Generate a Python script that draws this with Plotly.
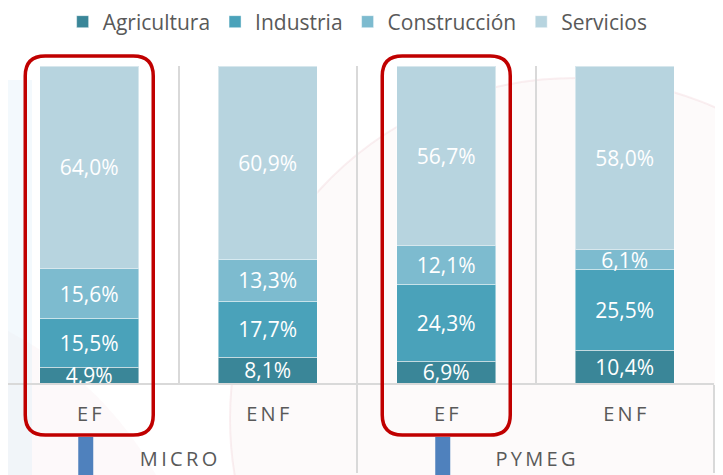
import plotly.graph_objects as go

# ---- data ----
groups = ["MICRO", "MICRO", "PYMEG", "PYMEG"]
types = ["EF", "ENF", "EF", "ENF"]
agricultura = [4.9, 8.1, 6.9, 10.4]
industria = [15.5, 17.7, 24.3, 25.5]
construccion = [15.6, 13.3, 12.1, 6.1]
servicios = [64.0, 60.9, 56.7, 58.0]
series_names = ["Agricultura", "Industria", "Construcción", "Servicios"]
highlight = "EF"

colors = ["#3A8698", "#4AA2BA", "#7DBBCF", "#B7D4DF"]
FONT = "Open Sans, Noto Sans, sans-serif"
GRAY = "#595959"
LINE = "#D9D9D9"


def spaced(s, sep="\u2009"):
    return sep.join(list(s))


# inner labels get an empty second line so the group row sits lower
pad_line = "<br><span style='font-size:27px'>\u00a0</span>"
x = [[spaced(g) for g in groups], [spaced(t) + pad_line for t in types]]

fig = go.Figure()
for name, vals, col in zip(series_names, [agricultura, industria, construccion, servicios], colors):
    fig.add_trace(go.Bar(
        x=x, y=vals, name=name,
        marker=dict(color=col, line=dict(color="rgba(255,255,255,0.45)", width=1)),
        texttemplate="%{y:.1f}%", textposition="inside", insidetextanchor="middle",
        constraintext="none", textangle=0,
        textfont=dict(color="white", size=21, family=FONT),
        cliponaxis=True,
    ))

# page body has an 8px margin: figure occupies viewport (8..723, 8..475)
OFF = 8
W, H = 723 - OFF, 475 - OFF
plot_l, plot_r, plot_t, plot_b = 8, 714, 66, 383  # viewport px of plot area
ml, mr = plot_l - OFF, W - (plot_r - OFF)
mt, mb = plot_t - OFF, H - (plot_b - OFF)
pw, ph = plot_r - plot_l, plot_b - plot_t
n = len(types)
cat_px = 178.5  # px per category
x_lo = -0.5 + (plot_l - 0) / cat_px


def px2x(p):  # viewport px -> paper
    return (p - plot_l) / pw


def py2y(p):
    return (plot_b - p) / ph


def cat2px(c):
    return (c + 0.5) * cat_px


shapes = []
# faint watermark circles in the background
shapes.append(dict(type="circle", xref="paper", yref="paper", layer="below",
                   x0=px2x(230), x1=px2x(920), y0=py2y(760), y1=py2y(78),
                   fillcolor="rgba(236,205,210,0.10)", line=dict(color="rgba(236,190,200,0.25)", width=2)))
shapes.append(dict(type="circle", xref="paper", yref="paper", layer="below",
                   x0=px2x(-520), x1=px2x(200), y0=py2y(1000), y1=py2y(290),
                   fillcolor="rgba(236,205,210,0.12)", line=dict(width=0)))
shapes.append(dict(type="rect", xref="paper", yref="paper", layer="below",
                   x0=px2x(0), x1=px2x(32), y0=py2y(475), y1=py2y(80),
                   fillcolor="rgba(215,235,248,0.30)", line=dict(width=0)))

# highlight boxes around EF bars + blue connector stubs
half_w = 64
top, bot = py2y(56), py2y(435)
rx, ry = 20 / pw, 20 / ph
for i, t in enumerate(types):
    if t != highlight:
        continue
    cpx = cat2px(i)
    x0, x1 = px2x(cpx - half_w), px2x(cpx + half_w)
    path = (f"M{x0 + rx},{top} L{x1 - rx},{top} Q{x1},{top} {x1},{top - ry} "
            f"L{x1},{bot + ry} Q{x1},{bot} {x1 - rx},{bot} "
            f"L{x0 + rx},{bot} Q{x0},{bot} {x0},{bot + ry} "
            f"L{x0},{top - ry} Q{x0},{top} {x0 + rx},{top} Z")
    shapes.append(dict(type="path", path=path, xref="paper", yref="paper", layer="above",
                       line=dict(color="#C00000", width=3.5)))
    shapes.append(dict(type="rect", xref="paper", yref="paper", layer="above",
                       x0=px2x(cpx - 11), x1=px2x(cpx + 4), y0=py2y(480), y1=py2y(437),
                       fillcolor="#4F81BD", line=dict(width=0)))

fig.update_layout(
    width=W, height=H,
    margin=dict(l=ml, r=mr, t=mt, b=mb, autoexpand=False),
    barmode="stack", bargap=0.445,
    separators=",.",
    paper_bgcolor="white", plot_bgcolor="rgba(0,0,0,0)",
    font=dict(family=FONT, color=GRAY, size=20),
    showlegend=True,
    legend=dict(orientation="h", x=0.489, xref="container", xanchor="center",
                y=0.970, yref="container", yanchor="middle", traceorder="normal",
                font=dict(size=21, color=GRAY, family=FONT), itemwidth=30,
                bgcolor="rgba(0,0,0,0)"),
    xaxis=dict(type="multicategory", range=[x_lo, n - 0.5],
               showgrid=True, gridcolor=LINE, gridwidth=1.5,
               tickson="boundaries", showline=True, linecolor=LINE, linewidth=1.5,
               showdividers=True, dividercolor=LINE, dividerwidth=1.5, ticks="",
               ticklabelstandoff=12,
               tickfont=dict(size=20, color=GRAY, family=FONT), automargin=False,
               zeroline=False),
    yaxis=dict(range=[0, 100], visible=False, fixedrange=True),
    shapes=shapes,
)

fig.write_html("out.html")
